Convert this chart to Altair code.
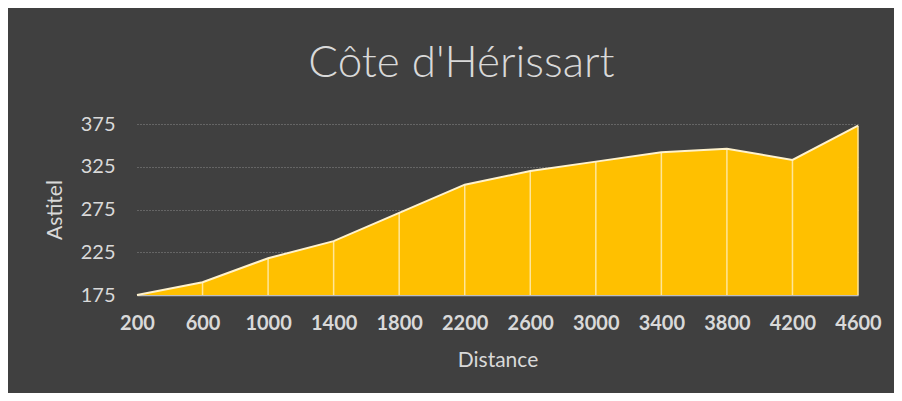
import altair as alt
import pandas as pd

distance = [200, 600, 1000, 1400, 1800, 2200, 2600, 3000, 3400, 3800, 4200, 4600]
altitude = [175, 190, 218, 238, 271, 304, 320, 331, 342, 346, 333, 373]
x_ticks = [200, 600, 1000, 1400, 1800, 2200, 2600, 3000, 3400, 3800, 4200, 4600]
y_ticks = [175, 225, 275, 325, 375]
baseline = 175

df = pd.DataFrame({"Distance": distance, "Astitel": altitude, "base": [baseline] * len(distance)})

FONT = "Lato"
LABEL = "#d9d9d9"

x_enc = alt.X(
    "Distance:Q",
    scale=alt.Scale(domain=[200, 4600], nice=False, zero=False),
    axis=alt.Axis(
        values=x_ticks, title="Distance", labelFontWeight="bold", labelFontSize=20,
        labelColor=LABEL, labelPadding=18, labelFlush=False, labelOverlap=False,
        titleFontSize=21, titleFontWeight="normal",
        titleColor=LABEL, titlePadding=16, grid=False, ticks=False,
        domainColor="#bfbfbf", domainWidth=1.5, labelFont=FONT, titleFont=FONT,
        format="d",
    ),
)
y_enc = alt.Y(
    "Astitel:Q",
    scale=alt.Scale(domain=[175, 375], nice=False, zero=False),
    axis=alt.Axis(
        values=y_ticks, title="Astitel", labelFontSize=20, labelColor=LABEL,
        labelPadding=22, labelFlush=False, titleFontSize=21, titleFontWeight="normal",
        titleColor=LABEL, titlePadding=15, grid=True, gridColor="#8a8a8a",
        gridDash=[1, 2], gridWidth=1, ticks=False, domain=False,
        labelFont=FONT, titleFont=FONT,
    ),
)

area = alt.Chart(df).mark_area(color="#FFC000", opacity=1).encode(
    x=x_enc, y=y_enc, y2="base:Q"
)
rules = alt.Chart(df).mark_rule(color="#ffe699", strokeWidth=1.5).encode(
    x=x_enc, y=y_enc, y2="base:Q"
)
line = alt.Chart(df).mark_line(color="#fff2cc", strokeWidth=2).encode(x=x_enc, y=y_enc)

chart = (
    alt.layer(area, rules, line)
    .properties(
        width=721,
        height=171,
        background="#404040",
        padding={"left": 129, "top": 116, "right": 36, "bottom": 98},
        autosize=alt.AutoSizeParams(type="none"),
        title=alt.TitleParams(
            "Côte d'Hérissart", fontSize=44, font=FONT, fontWeight=300, color=LABEL,
            anchor="middle", frame="group", dx=-36, offset=28,
        ),
    )
    .configure_view(stroke=None)
)

chart.save("out.html", embed_options={"renderer": "svg", "actions": False})
